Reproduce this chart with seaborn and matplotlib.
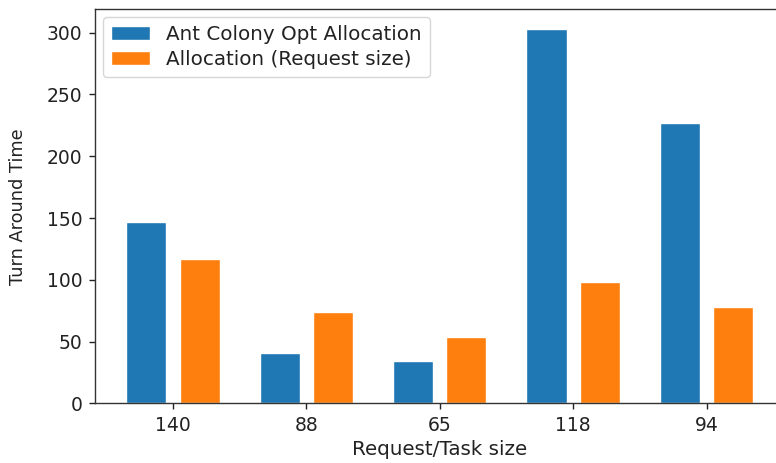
import numpy as np
import pandas as pd
import matplotlib
matplotlib.use('Agg')
import matplotlib.pyplot as plt
import seaborn as sns

# data
task_sizes = ['140', '88', '65', '118', '94']
aco_tat = [147, 41, 34, 303, 227]
req_tat = [117, 74, 54, 98, 78]
series_names = ['Ant Colony Opt Allocation', 'Allocation (Request size)']

df = pd.DataFrame({
    'size': task_sizes * 2,
    'tat': aco_tat + req_tat,
    'method': [series_names[0]] * len(task_sizes) + [series_names[1]] * len(task_sizes),
})

sns.set_style('ticks')
plt.rcParams['font.family'] = ['DejaVu Sans']
plt.rcParams['text.color'] = '#222222'

fig = plt.figure(figsize=(7.76, 4.63), dpi=100)
ax = fig.add_axes([0.1222, 0.129, 0.889, 0.851])

sns.barplot(data=df, x='size', y='tat', hue='method', order=task_sizes,
            hue_order=series_names, palette=['#1f77b4', '#ff7f0e'],
            width=0.8, gap=0.25, errorbar=None, saturation=1, ax=ax)

ax.set_xlim(-0.585, 4.585)
ax.set_ylim(0, 319)
ax.set_xlabel('Request/Task size', fontsize=14.3, color='#222222')
ax.set_ylabel('Turn Around Time', fontsize=12.8, color='#222222', labelpad=14)
ax.tick_params(labelsize=13.5, length=4.5, width=1, pad=4.5, colors='#222222')
ax.spines['right'].set_visible(False)
for s in ax.spines.values():
    s.set_linewidth(1)
    s.set_color('#333333')

sns.move_legend(ax, 'upper left', title=None, fontsize=14.3, frameon=True,
                labelspacing=0.3, borderaxespad=0.4)

fig.savefig('out.png', dpi=100)
